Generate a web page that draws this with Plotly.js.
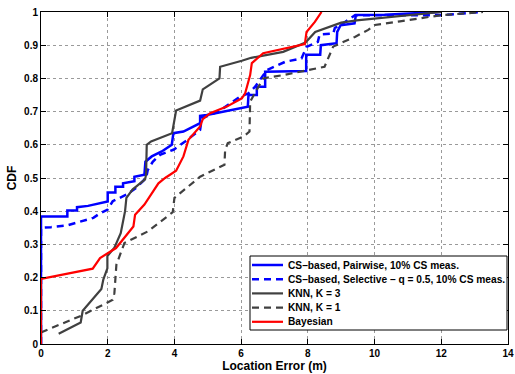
<!DOCTYPE html>
<html>
<head>
<meta charset="utf-8">
<script src="https://cdn.plot.ly/plotly-3.0.1.min.js"></script>
<style>html,body{margin:0;padding:0;background:#fff;}#chart{width:515px;height:374px;}</style>
</head>
<body>
<div id="chart"></div>
<script>
// ---- data ----
const pairwiseX = [0, 0, 0.79, 0.79, 1.08, 1.08, 1.41, 1.76, 2.0, 2.0, 2.23, 2.23, 2.46, 2.46, 2.8, 2.8, 3.1, 3.13, 3.32, 3.62, 3.92, 3.97, 4.27, 4.77, 4.77, 4.97, 5.47, 5.97, 6.2, 6.22, 6.47, 6.47, 6.72, 6.72, 7.81, 7.95, 7.95, 8.37, 8.39, 8.86, 8.88, 8.98, 9.4, 9.44, 10.3, 12.0];
const pairwiseY = [0, 0.384, 0.384, 0.402, 0.402, 0.412, 0.416, 0.424, 0.429, 0.456, 0.456, 0.474, 0.474, 0.484, 0.49, 0.504, 0.51, 0.549, 0.565, 0.58, 0.60, 0.635, 0.64, 0.665, 0.687, 0.69, 0.70, 0.71, 0.715, 0.75, 0.75, 0.775, 0.775, 0.82, 0.822, 0.822, 0.871, 0.871, 0.90, 0.906, 0.94, 0.96, 0.966, 0.991, 0.992, 1.0];

const selectiveX = [0, 0, 0.3, 0.77, 1.12, 1.3, 1.57, 1.76, 2.0, 2.15, 2.6, 2.85, 3.15, 3.2, 3.35, 3.57, 3.97, 4.32, 4.77, 4.82, 5.32, 5.97, 6.22, 6.42, 6.77, 7.32, 7.81, 7.96, 8.3, 8.35, 8.76, 8.81, 9.0, 9.41, 12.0, 13.2];
const selectiveY = [0, 0.35, 0.352, 0.357, 0.367, 0.372, 0.38, 0.393, 0.405, 0.43, 0.452, 0.47, 0.50, 0.524, 0.549, 0.57, 0.585, 0.61, 0.645, 0.68, 0.70, 0.745, 0.755, 0.775, 0.825, 0.85, 0.86, 0.895, 0.91, 0.932, 0.935, 0.952, 0.962, 0.99, 0.99, 1.0];

const knn3X = [0.53, 1.19, 1.25, 1.81, 1.87, 1.99, 1.99, 2.2, 2.39, 2.52, 2.56, 2.75, 3.12, 3.15, 3.17, 3.3, 3.93, 4.05, 4.77, 4.85, 5.35, 5.37, 6.02, 6.3, 7.26, 7.93, 8.22, 9.0, 9.46, 12.0];
const knn3Y = [0.031, 0.065, 0.10, 0.166, 0.195, 0.228, 0.265, 0.29, 0.334, 0.40, 0.44, 0.466, 0.496, 0.51, 0.60, 0.61, 0.635, 0.703, 0.733, 0.767, 0.80, 0.835, 0.853, 0.862, 0.88, 0.908, 0.94, 0.968, 0.975, 1.0];

const knn1X = [0, 1.2, 2.15, 2.2, 2.26, 2.5, 3.2, 3.95, 4.0, 4.77, 5.5, 5.52, 5.6, 6.07, 6.25, 6.27, 6.66, 7.26, 8.01, 8.5, 8.76, 9.41, 9.81, 10.01, 10.76, 11.96, 13.25];
const knn1Y = [0.035, 0.085, 0.133, 0.153, 0.239, 0.304, 0.339, 0.397, 0.44, 0.504, 0.54, 0.585, 0.605, 0.625, 0.64, 0.73, 0.80, 0.81, 0.825, 0.835, 0.896, 0.925, 0.946, 0.961, 0.972, 0.99, 1.0];

const bayesX = [0, 0, 1.55, 1.77, 2.25, 2.77, 2.82, 3.1, 3.52, 3.72, 4.05, 4.27, 4.42, 4.77, 4.85, 5.07, 5.57, 6.02, 6.12, 6.27, 6.32, 6.66, 7.91, 7.96, 8.21, 8.41];
const bayesY = [0, 0.196, 0.227, 0.259, 0.289, 0.354, 0.389, 0.42, 0.484, 0.50, 0.522, 0.565, 0.615, 0.655, 0.677, 0.695, 0.715, 0.74, 0.755, 0.81, 0.846, 0.876, 0.903, 0.94, 0.97, 1.0];

const seriesNames = [
  'CS\u2013based, Pairwise, 10% CS meas.',
  'CS\u2013based, Selective \u2013 q = 0.5, 10% CS meas.',
  'KNN, K = 3',
  'KNN, K = 1',
  'Bayesian'
];
const xTickVals = [0, 2, 4, 6, 8, 10, 12, 14];
const yTickVals = [0, 0.1, 0.2, 0.3, 0.4, 0.5, 0.6, 0.7, 0.8, 0.9, 1];
const yTickText = ['0', '0.1', '0.2', '0.3', '0.4', '0.5', '0.6', '0.7', '0.8', '0.9', '1'];
const xTitle = 'Location Error (m)';
const yTitle = 'CDF';

// ---- styles ----
const FONT = 'Liberation Sans, Arial, sans-serif';
const styles = [
  {color: '#0000ff', width: 2.5, dash: 'solid'},
  {color: '#0000ff', width: 2.5, dash: '7px,5px'},
  {color: '#404040', width: 2.2, dash: 'solid'},
  {color: '#404040', width: 2.2, dash: '7px,5px'},
  {color: '#ff0000', width: 2.2, dash: 'solid'}
];
const xs = [pairwiseX, selectiveX, knn3X, knn1X, bayesX];
const ys = [pairwiseY, selectiveY, knn3Y, knn1Y, bayesY];

const traces = xs.map((x, i) => ({
  type: 'scatter', mode: 'lines', x: x, y: ys[i], name: seriesNames[i],
  line: {color: styles[i].color, width: styles[i].width, dash: styles[i].dash},
  showlegend: false, hoverinfo: 'skip'
}));

// plot area in pixels
const W = 515, H = 374, L = 41, R = 7, T = 12, B = 30;
const pw = W - L - R, ph = H - T - B;
const px2paper = p => (p - L) / pw;
const py2paper = p => (H - B - p) / ph;

// custom legend (compact rows like the reference)
const shapes = [];
const annotations = [];
const lgLeft = 250, lgRight = 507, lgTop = 256, lgBottom = 330;
shapes.push({type: 'rect', xref: 'paper', yref: 'paper',
  x0: px2paper(lgLeft), x1: px2paper(lgRight), y0: py2paper(lgBottom), y1: py2paper(lgTop),
  line: {color: '#000', width: 1}, fillcolor: '#fff', layer: 'above'});
seriesNames.forEach((nm, i) => {
  const rowY = 265 + i * 14.2;
  shapes.push({type: 'line', xref: 'paper', yref: 'paper',
    x0: px2paper(252), x1: px2paper(283), y0: py2paper(rowY), y1: py2paper(rowY),
    line: {color: styles[i].color, width: styles[i].width, dash: styles[i].dash}, layer: 'above'});
  annotations.push({xref: 'paper', yref: 'paper', x: px2paper(286), y: py2paper(rowY),
    xanchor: 'left', yanchor: 'middle', showarrow: false, text: nm,
    font: {family: FONT, size: 10.2, color: '#000', weight: 'bold'}});
});

const axisCommon = {
  showline: true, linecolor: '#000', linewidth: 1, mirror: 'allticks',
  ticks: 'inside', ticklen: 5, tickcolor: '#000',
  showgrid: true, gridcolor: '#9a9a9a', gridwidth: 1, griddash: 'dot',
  zeroline: false, fixedrange: true,
  tickfont: {family: FONT, size: 10, color: '#000', weight: 'bold'}
};

const layout = {
  width: W, height: H,
  margin: {l: L, r: R, t: T, b: B, pad: 0},
  paper_bgcolor: '#fff', plot_bgcolor: '#fff',
  showlegend: false,
  xaxis: Object.assign({}, axisCommon, {
    range: [0, 14], tickvals: xTickVals, ticktext: xTickVals.map(String),
    title: {text: xTitle, standoff: 2, font: {family: FONT, size: 12, color: '#000', weight: 'bold'}}
  }),
  yaxis: Object.assign({}, axisCommon, {
    range: [0, 1], tickvals: yTickVals, ticktext: yTickText,
    title: {text: yTitle, standoff: 4, font: {family: FONT, size: 12, color: '#000', weight: 'bold'}}
  }),
  shapes: shapes,
  annotations: annotations
};

Plotly.newPlot('chart', traces, layout, {displayModeBar: false, staticPlot: true});
</script>
</body>
</html>
